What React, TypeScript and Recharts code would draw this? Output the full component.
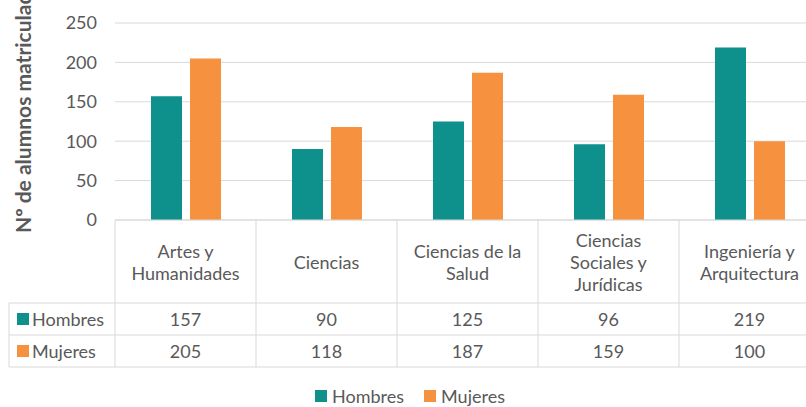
import React from 'react';
import { BarChart, Bar, XAxis, YAxis, CartesianGrid, Legend } from 'recharts';

const CATEGORIES = [
  'Artes y\nHumanidades',
  'Ciencias',
  'Ciencias de la\nSalud',
  'Ciencias\nSociales y\nJurídicas',
  'Ingeniería y\nArquitectura',
];
const HOMBRES = [157, 90, 125, 96, 219];
const MUJERES = [205, 118, 187, 159, 100];
const Y_TICKS = [0, 50, 100, 150, 200, 250];

const SERIES = [
  { key: 'Hombres', color: '#0E908C', values: HOMBRES },
  { key: 'Mujeres', color: '#F5913F', values: MUJERES },
];

const CHART_W = 822;
const CHART_H = 407;
const Y_W = 115;
const M = { top: 23, right: 2, left: 0, bottom: 18 };
const BAND = (CHART_W - M.left - M.right - Y_W) / CATEGORIES.length;
const TABLE_H = 147;
const HEAD_H = 83;
const ROW_H = 32;
const GRID = '#d9d9d9';
const TXT = '#595959';
const FONT = 'Lato, "Open Sans", sans-serif';

const data = CATEGORIES.map((name, i) => ({
  name,
  Hombres: HOMBRES[i],
  Mujeres: MUJERES[i],
}));

// one column of the data table under each category
function TableTick(props: any) {
  const { x, y, payload, index } = props;
  const left = x - BAND / 2;
  const lines = String(payload.value).split('\n');
  const lh = 22;
  const cy = y + 41.5 - ((lines.length - 1) * lh) / 2;
  return (
    <g>
      <line x1={left} x2={left} y1={y} y2={y + TABLE_H} stroke={GRID} />
      <line x1={left} x2={left + BAND} y1={y + HEAD_H} y2={y + HEAD_H} stroke={GRID} />
      <line x1={left} x2={left + BAND} y1={y + HEAD_H + ROW_H} y2={y + HEAD_H + ROW_H} stroke={GRID} />
      <line x1={left} x2={left + BAND} y1={y + TABLE_H} y2={y + TABLE_H} stroke={GRID} />
      {lines.map((l, k) => (
        <text key={k} x={x} y={cy + k * lh} textAnchor="middle" dominantBaseline="central" fill={TXT} fontSize={18} fontFamily={FONT}>
          {l}
        </text>
      ))}
      {SERIES.map((s, r) => (
        <text key={s.key} x={x} y={y + HEAD_H + ROW_H * r + ROW_H / 2} textAnchor="middle" dominantBaseline="central" fill={TXT} fontSize={18} fontFamily={FONT}>
          {s.values[index]}
        </text>
      ))}
      {index === 0 && (
        <g>
          <line x1={9} x2={9} y1={y + HEAD_H} y2={y + TABLE_H} stroke={GRID} />
          {[0, 1, 2].map(r => (
            <line key={r} x1={9} x2={left} y1={y + HEAD_H + ROW_H * r} y2={y + HEAD_H + ROW_H * r} stroke={GRID} />
          ))}
          {SERIES.map((s, r) => {
            const ry = y + HEAD_H + ROW_H * r + ROW_H / 2;
            return (
              <g key={s.key}>
                <rect x={17} y={ry - 6} width={12} height={12} fill={s.color} />
                <text x={32} y={ry} dominantBaseline="central" fill={TXT} fontSize={18} fontFamily={FONT}>
                  {s.key}
                </text>
              </g>
            );
          })}
        </g>
      )}
    </g>
  );
}

function LegendContent() {
  return (
    <div style={{ display: 'flex', justifyContent: 'center', gap: 20, height: 22, alignItems: 'center', fontFamily: FONT, fontSize: 18, color: TXT }}>
      {SERIES.map(s => (
        <div key={s.key} style={{ display: 'flex', alignItems: 'center' }}>
          <span style={{ display: 'inline-block', width: 12, height: 12, background: s.color, marginRight: 5 }} />
          {s.key}
        </div>
      ))}
    </div>
  );
}

function AxisTitle() {
  return (
    <text x={31} y={233} transform="rotate(-90 31 233)" textAnchor="start" fill={TXT} fontSize={21} fontWeight="bold" fontFamily={FONT}>
      Nº de alumnos matriculados
    </text>
  );
}

export default function App() {
  return (
    <div style={{ position: 'absolute', left: 0, top: 0, width: 806, height: 407, overflow: 'hidden', background: '#fff' }}>
      <BarChart width={CHART_W} height={CHART_H} data={data} margin={M} barGap={8} barSize={31}>
        <CartesianGrid vertical={false} stroke={GRID} />
        <XAxis
          dataKey="name"
          height={TABLE_H}
          interval={0}
          tickLine={false}
          tickSize={0}
          tickMargin={0}
          axisLine={{ stroke: GRID }}
          tick={<TableTick />}
        />
        <YAxis
          width={Y_W}
          domain={[0, 250]}
          ticks={Y_TICKS}
          tickLine={false}
          axisLine={false}
          tickSize={0}
          tickMargin={18}
          tick={{ fill: TXT, fontSize: 18, fontFamily: FONT }}
          label={<AxisTitle />}
        />
        <Legend content={<LegendContent />} verticalAlign="bottom" wrapperStyle={{ top: 385, bottom: 'auto' }} />
        {SERIES.map(s => (
          <Bar key={s.key} dataKey={s.key} fill={s.color} isAnimationActive={false} />
        ))}
      </BarChart>
    </div>
  );
}
